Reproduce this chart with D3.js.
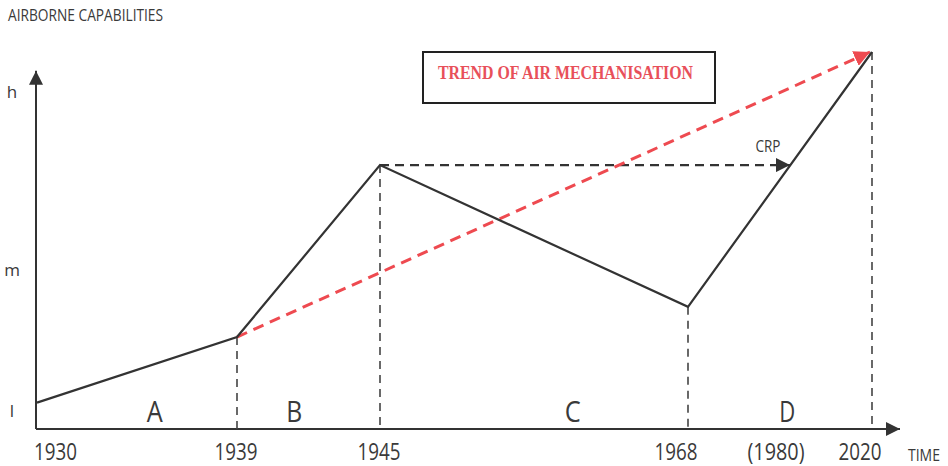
<!DOCTYPE html>
<html>
<head>
<meta charset="utf-8">
<script src="https://cdn.jsdelivr.net/npm/d3@7"></script>
<style>
  body { margin: 0; background: #fff; }
  svg { display: block; }
  text { font-family: "Open Sans", "DejaVu Sans", sans-serif; fill: #3a3a3a; }
  text.serif { font-family: "Liberation Serif", "DejaVu Serif", serif; }
</style>
</head>
<body>
<div id="chart"></div>
<script>
// Data
const years = [1930, 1939, 1945, 1968, 1980, 2020];
const yearLabels = ["1930", "1939", "1945", "1968", "(1980)", "2020"];
const trendYears = [1930, 1939, 1945, 1968, 2020];
const capability = [7, 24.4, 70, 32.4, 100];        // airborne capability, 0-100
const levels = ["l", "m", "h"];
const levelValues = [4.5, 42, 89];
const phases = ["A", "B", "C", "D"];
const phaseYears = [1935.3, 1941.4, 1959.4, 1979.9];
const trendStart = 1939, trendEnd = 2020;          // red dashed trend
const crpFrom = 1945, crpTo = 1980;                // CRP arrow

const W = 948, H = 466;
const svg = d3.select("#chart").append("svg")
  .attr("width", W).attr("height", H);

// x axis is schematic, not linear in years
const x = d3.scaleLinear()
  .domain([1930, 1939, 1945, 1968, 1980, 2020])
  .range([37, 237, 380, 688, 788, 872]);
const y = d3.scaleLinear().domain([0, 100]).range([429, 52]);

const ink = "#333", red = "#ee4a50";

const defs = svg.append("defs");
function marker(id, color, size) {
  defs.append("marker")
    .attr("id", id).attr("viewBox", "0 0 10 10")
    .attr("refX", 10).attr("refY", 5)
    .attr("markerWidth", size).attr("markerHeight", size)
    .attr("markerUnits", "userSpaceOnUse")
    .attr("orient", "auto")
    .append("path").attr("d", "M0,0L10,5L0,10Z").attr("fill", color);
}
marker("axisArrow", ink, 14);
marker("crpArrow", ink, 14);
marker("redArrow", red, 16);

// Axes
svg.append("line")
  .attr("x1", x(1930) - 1).attr("x2", x(1930) - 1)
  .attr("y1", y(0)).attr("y2", y(95))
  .attr("stroke", ink).attr("stroke-width", 2)
  .attr("marker-end", "url(#axisArrow)");
svg.append("line")
  .attr("x1", x(1930) - 1).attr("x2", 900)
  .attr("y1", y(0)).attr("y2", y(0))
  .attr("stroke", ink).attr("stroke-width", 2)
  .attr("marker-end", "url(#axisArrow)");

// tick labels on x
svg.selectAll(".xlab")
  .data(years)
  .enter().append("text")
  .attr("class", "xlab")
  .attr("x", (d, i) => i === 0 ? x(d) - 3 : x(d) - (d >= 1968 ? 12 : 1))
  .attr("y", 460)
  .attr("text-anchor", (d, i) => i === 0 ? "start" : "middle")
  .attr("font-size", 23)
  .attr("textLength", (d, i) => yearLabels[i].length > 4 ? 57 : 43)
  .attr("lengthAdjust", "spacingAndGlyphs")
  .text((d, i) => yearLabels[i]);

svg.append("text")
  .attr("x", 908).attr("y", 461)
  .attr("font-size", 17)
  .attr("textLength", 32).attr("lengthAdjust", "spacingAndGlyphs")
  .text("TIME");

// levels on y
svg.selectAll(".ylab")
  .data(levels)
  .enter().append("text")
  .attr("x", 12)
  .attr("y", (d, i) => y(levelValues[i]) + 5)
  .attr("text-anchor", "middle")
  .attr("font-size", 17)
  .text(d => d);

svg.append("text")
  .attr("x", 8).attr("y", 21)
  .attr("font-size", 16)
  .attr("textLength", 155).attr("lengthAdjust", "spacingAndGlyphs")
  .text("AIRBORNE CAPABILITIES");

// phase letters
svg.selectAll(".phase")
  .data(phases)
  .enter().append("text")
  .attr("x", (d, i) => x(phaseYears[i]))
  .attr("y", 422)
  .attr("text-anchor", "middle")
  .attr("font-size", 29)
  .attr("textLength", 16).attr("lengthAdjust", "spacingAndGlyphs")
  .text(d => d);

// vertical dashed drop lines
const pts = trendYears.map((d, i) => ({ year: d, value: capability[i] }));
svg.selectAll(".drop")
  .data(pts.slice(1))
  .enter().append("line")
  .attr("x1", d => x(d.year)).attr("x2", d => x(d.year))
  .attr("y1", d => y(d.value)).attr("y2", y(0))
  .attr("stroke", "#444").attr("stroke-width", 1.6)
  .attr("stroke-dasharray", "8,6");

// CRP horizontal arrow
const crpVal = capability[trendYears.indexOf(crpFrom)];
svg.append("line")
  .attr("x1", x(crpFrom)).attr("x2", x(crpTo) + 2)
  .attr("y1", y(crpVal)).attr("y2", y(crpVal))
  .attr("stroke", ink).attr("stroke-width", 2.4)
  .attr("stroke-dasharray", "9,6")
  .attr("marker-end", "url(#crpArrow)");
svg.append("text")
  .attr("x", x(crpTo) - 20).attr("y", y(crpVal) - 13)
  .attr("text-anchor", "middle")
  .attr("font-size", 16)
  .attr("textLength", 25).attr("lengthAdjust", "spacingAndGlyphs")
  .text("CRP");

// red trend line
const tS = capability[trendYears.indexOf(trendStart)];
const tE = capability[trendYears.indexOf(trendEnd)];
svg.append("line")
  .attr("x1", x(trendStart)).attr("y1", y(tS))
  .attr("x2", x(trendEnd) - 2).attr("y2", y(tE))
  .attr("stroke", red).attr("stroke-width", 3)
  .attr("stroke-dasharray", "11,7")
  .attr("marker-end", "url(#redArrow)");

// capability polyline
const line = d3.line().x(d => x(d.year)).y(d => y(d.value));
svg.append("path")
  .datum(pts)
  .attr("d", line)
  .attr("fill", "none")
  .attr("stroke", ink).attr("stroke-width", 2.2)
  .attr("stroke-linejoin", "miter");

// title box
svg.append("rect")
  .attr("x", 423).attr("y", 52).attr("width", 292).attr("height", 51)
  .attr("fill", "none").attr("stroke", "#222").attr("stroke-width", 2);
svg.append("text")
  .attr("class", "serif")
  .attr("x", 438).attr("y", 79)
  .attr("font-weight", "bold")
  .attr("font-size", 18)
  .attr("textLength", 255).attr("lengthAdjust", "spacingAndGlyphs")
  .style("fill", "#e8505a")
  .text("TREND OF AIR MECHANISATION");
</script>
</body>
</html>
